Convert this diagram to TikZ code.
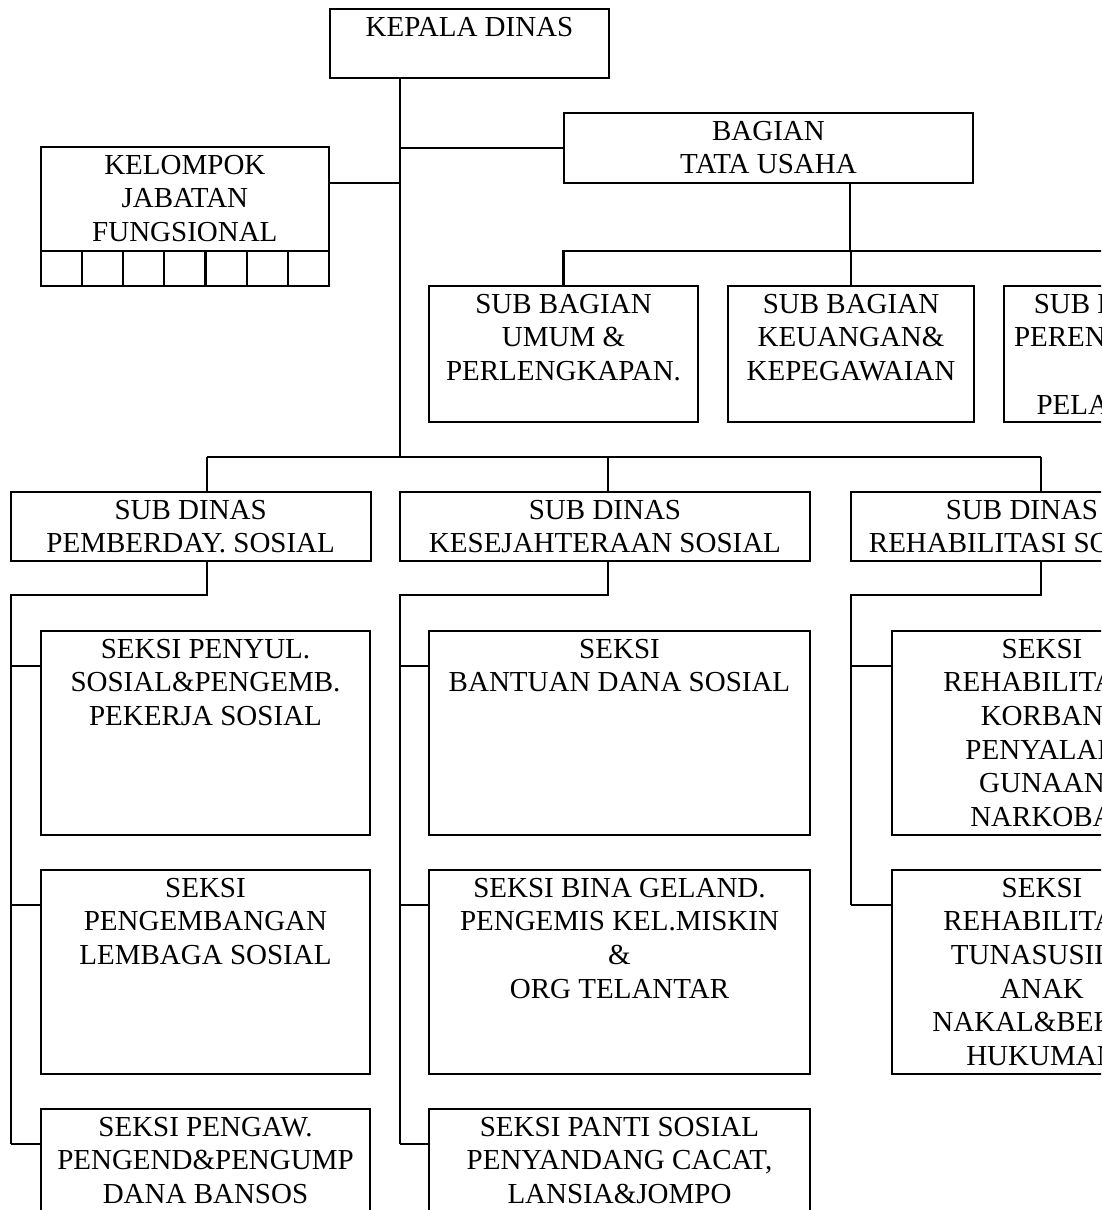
\documentclass[tikz,border=0pt]{standalone}
\usepackage{fontspec}
\setmainfont{Liberation Serif}
\usetikzlibrary{calc}

\tikzset{
  orgbox/.style={draw, rectangle, line width=2.2pt, inner sep=0pt, outer sep=0pt},
  link/.style={line width=2.2pt, line join=miter},
}

% \unitbox[line spacing]{name}{left}{top}{width}{height}{lines}
\newcommand\unitbox[7][33.6]{%
  \node[orgbox, anchor=north west] (#2) at (#3,#4)
    {\parbox[c][#6pt][t]{#5pt}{\centering\fontsize{29pt}{#1pt}\selectfont
      \vspace*{8pt}#7\par}};}

% short horizontal link from a vertical rail to a box, 35pt below its top
\newcommand\twig[2]{%
  \path ([yshift=-35pt]#2.north west) coordinate (#2-b);
  \draw[link] (#2-b -| #1) -- (#2-b);}

\begin{document}
\begin{tikzpicture}[x=1pt,y=-1pt]
\useasboundingbox (0,0) rectangle (1101,1210);
\clip (0,0) rectangle (1101,1210);

% head and staff
\unitbox{kepala}{330}{9}{279}{69}{KEPALA DINAS}
\unitbox{bagian}{564}{113}{409}{70}{BAGIAN\\TATA USAHA}
\unitbox{kelompok}{40.7}{147}{288.3}{139}{KELOMPOK\\JABATAN\\FUNGSIONAL}

% sub-sections of the administration office
\unitbox{umum}{429}{286}{269}{136}{SUB BAGIAN\\UMUM \&\\PERLENGKAPAN.}
\unitbox{keu}{728}{286}{246}{136}{SUB BAGIAN\\KEUANGAN\&\\KEPEGAWAIAN}
\unitbox{renc}{1004}{286}{236}{136}{SUB BAGIAN\\PERENCANAAN\\\&\\PELAPORAN}

% sub-agencies
\unitbox{pemb}{10.7}{492}{360}{69}{SUB DINAS\\PEMBERDAY. SOSIAL}
\unitbox{kesej}{400}{492}{410}{69}{SUB DINAS\\KESEJAHTERAAN SOSIAL}
\unitbox{rehsd}{851}{492}{342}{69}{SUB DINAS\\REHABILITASI SOSIAL}

% sections
\unitbox{penyul}{41}{631}{329}{204}{SEKSI PENYUL.\\SOSIAL\&PENGEMB.\\PEKERJA SOSIAL}
\unitbox{pengemb}{41}{870}{329}{204}{SEKSI\\PENGEMBANGAN\\LEMBAGA SOSIAL}
\unitbox{pengaw}{41}{1109}{329}{204}{SEKSI PENGAW.\\PENGEND\&PENGUMP\\DANA BANSOS}
\unitbox{bantuan}{429}{631}{381}{204}{SEKSI\\BANTUAN DANA SOSIAL}
\unitbox{bina}{429}{870}{381}{204}{SEKSI BINA GELAND.\\PENGEMIS KEL.MISKIN\\\&\\ORG TELANTAR}
\unitbox{panti}{429}{1109}{381}{204}{SEKSI PANTI SOSIAL\\PENYANDANG CACAT,\\LANSIA\&JOMPO}
\unitbox{rehab1}{892}{631}{300}{204}{SEKSI\\REHABILITASI\\KORBAN\\PENYALAH\\GUNAAN\\NARKOBA}
\unitbox{rehab2}{892}{870}{300}{204}{SEKSI\\REHABILITASI\\TUNASUSILA\\ANAK\\NAKAL\&BEKAS\\HUKUMAN}

% cells under the functional group
\path ([yshift=35pt]kelompok.south west) coordinate (cellL)
      ([yshift=35pt]kelompok.south east) coordinate (cellR);
\draw[link] (cellL) -- (cellR);
\foreach \i in {1,...,6}
  \draw[link] ($(kelompok.south west)!\i/7!(kelompok.south east)$) -- ($(cellL)!\i/7!(cellR)$);

% main spine
\coordinate (spine) at (400,457);
\draw[link] (kepala.south -| spine) -- (spine);
\draw[link] (spine |- bagian.west) -- (bagian.west);
\path ([yshift=-35.7pt]kelompok.north east) coordinate (kelB);
\draw[link] (kelB) -- (kelB -| spine);

% administration office branches
\coordinate (tu) at (850,250.7);
\draw[link] (bagian.south -| tu) -- (tu);
\draw[link] (umum.north) |- (renc.north |- tu) -- (renc.north);
\draw[link] (keu.north) -- (keu.north |- tu);

% sub-agency rail
\coordinate (d1) at (207,457);
\coordinate (d2) at (608,457);
\coordinate (d3) at (1041,457);
\draw[link] (d1) -- (d3);
\draw[link] (d1) -- (d1 |- pemb.north);
\draw[link] (d2) -- (d2 |- kesej.north);
\draw[link] (d3) -- (d3 |- rehsd.north);

% section rails
\coordinate (c1) at (207,595.3);
\coordinate (c2) at (608,595.3);
\coordinate (c3) at (1041,595.3);
\coordinate (rail1) at (pemb.south west |- c1);
\coordinate (rail2) at (kesej.south west |- c2);
\coordinate (rail3) at (rehsd.south west |- c3);

\twig{rail1}{penyul}
\twig{rail1}{pengemb}
\twig{rail1}{pengaw}
\twig{rail2}{bantuan}
\twig{rail2}{bina}
\twig{rail2}{panti}
\twig{rail3}{rehab1}
\twig{rail3}{rehab2}

\draw[link] (pemb.south -| c1) -- (c1) -- (rail1) -- (rail1 |- pengaw-b);
\draw[link] (kesej.south -| c2) -- (c2) -- (rail2) -- (rail2 |- panti-b);
\draw[link] (rehsd.south -| c3) -- (c3) -- (rail3) -- (rail3 |- rehab2-b);
\end{tikzpicture}
\end{document}
